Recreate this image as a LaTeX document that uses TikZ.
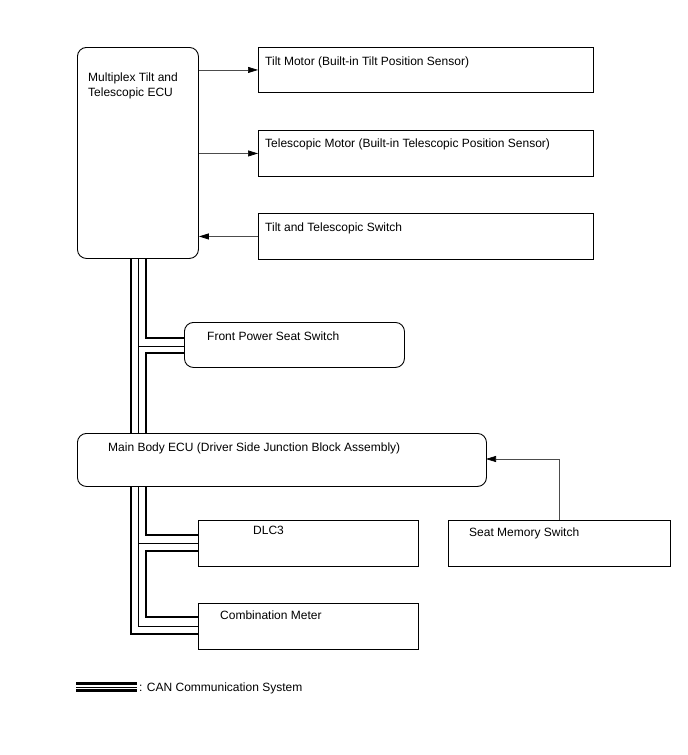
\documentclass[tikz,border=0pt]{standalone}
\usepackage{fontspec}
\setmainfont{Liberation Sans}
\usetikzlibrary{arrows.meta}
\begin{document}
\begin{tikzpicture}[x=1pt,y=-1pt,
  box/.style={draw,line width=0.9pt,inner sep=0pt,anchor=north west},
  rbox/.style={box,rounded corners=9pt},
  lbl/.style={anchor=base west,inner sep=0pt,font=\fontsize{12}{14}\selectfont},
  sig/.style={draw=black!70,line width=0.7pt,-{Triangle[length=10pt,width=6pt,fill=black,color=black]}},
  busthick/.style={line width=2.4pt,line join=miter},
  busthin/.style={line width=0.9pt}]
\useasboundingbox[fill=white] (0,0) rectangle (688,755);

% boxes
\node[rbox,minimum width=121pt,minimum height=211pt] (ecu) at (77,47) {};
\node[box,minimum width=335pt,minimum height=45pt] (tilt) at (258,47) {};
\node[box,minimum width=335pt,minimum height=46pt] (tele) at (258,130) {};
\node[box,minimum width=335pt,minimum height=46pt] (sw) at (258,213) {};
\node[rbox,minimum width=220pt,minimum height=45pt] (fps) at (184,322) {};
\node[rbox,minimum width=409pt,minimum height=53pt] (mbe) at (77,433) {};
\node[box,minimum width=220pt,minimum height=46pt] (dlc) at (198,520) {};
\node[box,minimum width=220pt,minimum height=46pt] (comb) at (198,603) {};
\node[box,minimum width=222pt,minimum height=46pt] (smem) at (448,520) {};

% labels
\node[lbl] (tecu1) at (88,81) {Multiplex Tilt and};
\node[lbl] (tecu2) at (88,96) {Telescopic ECU};
\node[lbl] (ttilt) at (265,65) {Tilt Motor (Built-in Tilt Position Sensor)};
\node[lbl] (ttele) at (265,147) {Telescopic Motor (Built-in Telescopic Position Sensor)};
\node[lbl] (tsw) at (265,231.5) {Tilt and Telescopic Switch};
\node[lbl] (tfps) at (207,340.5) {Front Power Seat Switch};
\node[lbl] (tmbe) at (108,451.5) {Main Body ECU (Driver Side Junction Block Assembly)};
\node[lbl] (tdlc) at (253,534.5) {DLC3};
\node[lbl] (tcomb) at (220,619.5) {Combination Meter};
\node[lbl] (tsmem) at (469,536) {Seat Memory Switch};
\node[lbl] (tleg) at (139,691.5) {: CAN Communication System};

% signal arrows
\draw[sig] (tilt.west -| ecu.east) -- (tilt.west);
\draw[sig] (tele.west -| ecu.east) -- (tele.west);
\draw[sig] (sw.west) -- (sw.west -| ecu.east);
\coordinate (smtop) at (559,520);
\coordinate (mbein) at (486,459);
\draw[sig] (smtop) |- (mbein);

% CAN bus upper
\draw[busthick] (131,258) -- (131,433);
\draw[busthick] (146,258) |- (184,338);
\draw[busthick] (184,353) -| (146,433);
\draw[busthin] (138,258) -- (138,433);
\draw[busthin] (138,346) -- (184,346);

% CAN bus lower
\draw[busthick] (146,486) |- (198,535);
\draw[busthick] (198,551) -| (146,617) -- (198,617);
\draw[busthin] (138,486) |- (198,626);
\draw[busthin] (138,543) -- (198,543);
\draw[busthick] (131,486) |- (198,634);

% legend
\draw[busthick] (76,683.5) -- (137,683.5);
\draw[busthin] (76,687) -- (137,687);
\draw[busthick] (76,690.5) -- (137,690.5);
\end{tikzpicture}
\end{document}
